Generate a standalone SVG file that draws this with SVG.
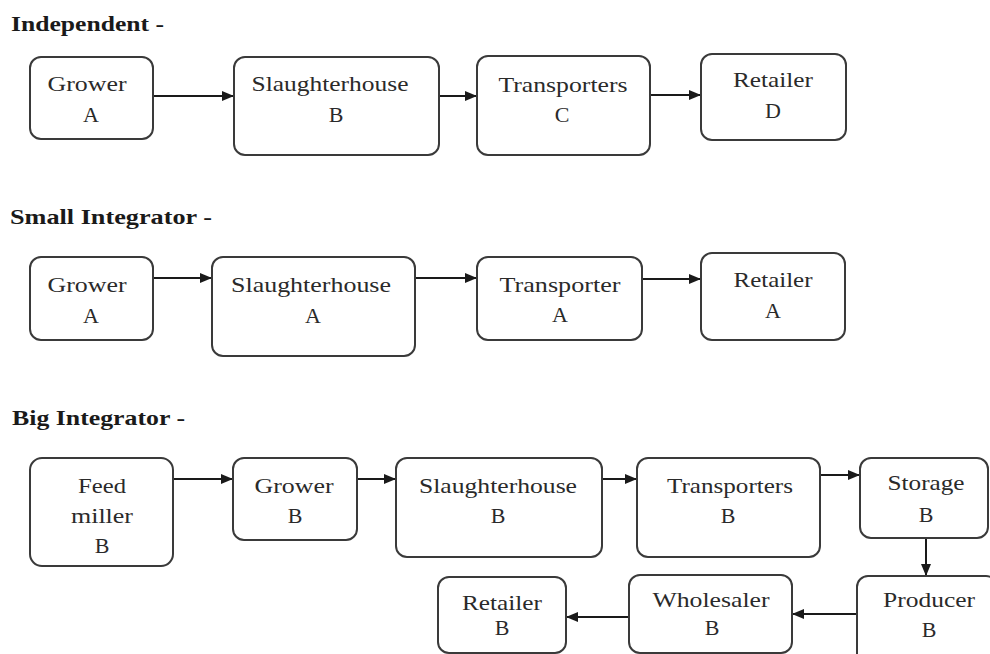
<svg xmlns="http://www.w3.org/2000/svg" width="990" height="654" viewBox="0 0 990 654">
<defs>
<marker id="ah" markerUnits="userSpaceOnUse" markerWidth="12" markerHeight="10" refX="12" refY="5" orient="auto">
<path d="M0,0 L12,5 L0,10 z" fill="#1a1a1a"/>
</marker>
<style>
.box{fill:#fff;stroke:#3a3a3a;stroke-width:2}
.t{font-family:'Liberation Serif',Tinos,'Times New Roman',Times,serif;font-size:22px;fill:#2a2a2a;text-anchor:middle}
.h{font-family:'Liberation Serif',Tinos,'Times New Roman',Times,serif;font-size:22px;font-weight:bold;fill:#1a1a1a}
.c{stroke:#1a1a1a;stroke-width:2;fill:none;marker-end:url(#ah)}
</style>
</defs>
<rect width="990" height="654" fill="#fff"/>
<text class="h" x="11" y="31" textLength="153" lengthAdjust="spacingAndGlyphs">Independent -</text>
<text class="h" x="10" y="224" textLength="202" lengthAdjust="spacingAndGlyphs">Small Integrator -</text>
<text class="h" x="12" y="425" textLength="173" lengthAdjust="spacingAndGlyphs">Big Integrator -</text>

<g id="connectors">
<line class="c" x1="153" y1="96" x2="234" y2="96"/>
<line class="c" x1="439" y1="96" x2="477" y2="96"/>
<line class="c" x1="650" y1="95" x2="701" y2="95"/>
<line class="c" x1="153" y1="278" x2="212" y2="278"/>
<line class="c" x1="415" y1="278" x2="477" y2="278"/>
<line class="c" x1="642" y1="279" x2="701" y2="279"/>
<line class="c" x1="173" y1="479" x2="233" y2="479"/>
<line class="c" x1="357" y1="479" x2="396" y2="479"/>
<line class="c" x1="602" y1="479" x2="637" y2="479"/>
<line class="c" x1="820" y1="475" x2="860" y2="475"/>
<line class="c" x1="926" y1="538" x2="926" y2="576"/>
<line class="c" x1="857" y1="614" x2="792" y2="614"/>
<line class="c" x1="629" y1="617" x2="566" y2="617"/>
</g>

<g id="ind-grower">
<rect class="box" x="30" y="57" width="123" height="82" rx="11"/>
<text class="t" x="87" y="91" textLength="79" lengthAdjust="spacingAndGlyphs">Grower</text>
<text class="t" x="91" y="122">A</text>
</g>
<g id="ind-slaughterhouse">
<rect class="box" x="234" y="57" width="205" height="98" rx="11"/>
<text class="t" x="330" y="91" textLength="157" lengthAdjust="spacingAndGlyphs">Slaughterhouse</text>
<text class="t" x="336" y="122">B</text>
</g>
<g id="ind-transporters">
<rect class="box" x="477" y="56" width="173" height="99" rx="11"/>
<text class="t" x="563" y="92" textLength="129" lengthAdjust="spacingAndGlyphs">Transporters</text>
<text class="t" x="562" y="122">C</text>
</g>
<g id="ind-retailer">
<rect class="box" x="701" y="54" width="145" height="86" rx="11"/>
<text class="t" x="773" y="87" textLength="80" lengthAdjust="spacingAndGlyphs">Retailer</text>
<text class="t" x="773" y="118">D</text>
</g>

<g id="small-grower">
<rect class="box" x="30" y="257" width="123" height="83" rx="11"/>
<text class="t" x="87" y="292" textLength="79" lengthAdjust="spacingAndGlyphs">Grower</text>
<text class="t" x="91" y="323">A</text>
</g>
<g id="small-slaughterhouse">
<rect class="box" x="212" y="257" width="203" height="99" rx="11"/>
<text class="t" x="311" y="292" textLength="160" lengthAdjust="spacingAndGlyphs">Slaughterhouse</text>
<text class="t" x="313" y="323">A</text>
</g>
<g id="small-transporter">
<rect class="box" x="477" y="257" width="165" height="83" rx="11"/>
<text class="t" x="560" y="292" textLength="121" lengthAdjust="spacingAndGlyphs">Transporter</text>
<text class="t" x="560" y="322">A</text>
</g>
<g id="small-retailer">
<rect class="box" x="701" y="253" width="144" height="87" rx="11"/>
<text class="t" x="773" y="287" textLength="79" lengthAdjust="spacingAndGlyphs">Retailer</text>
<text class="t" x="773" y="318">A</text>
</g>

<g id="big-feedmiller">
<rect class="box" x="30" y="458" width="143" height="108" rx="12"/>
<text class="t" x="102" y="493" textLength="48" lengthAdjust="spacingAndGlyphs">Feed</text>
<text class="t" x="102" y="523" textLength="62" lengthAdjust="spacingAndGlyphs">miller</text>
<text class="t" x="102" y="553">B</text>
</g>
<g id="big-grower">
<rect class="box" x="233" y="458" width="124" height="82" rx="11"/>
<text class="t" x="294" y="493" textLength="79" lengthAdjust="spacingAndGlyphs">Grower</text>
<text class="t" x="295" y="523">B</text>
</g>
<g id="big-slaughterhouse">
<rect class="box" x="396" y="458" width="206" height="99" rx="11"/>
<text class="t" x="498" y="493" textLength="158" lengthAdjust="spacingAndGlyphs">Slaughterhouse</text>
<text class="t" x="498" y="523">B</text>
</g>
<g id="big-transporters">
<rect class="box" x="637" y="458" width="183" height="99" rx="11"/>
<text class="t" x="730" y="493" textLength="126" lengthAdjust="spacingAndGlyphs">Transporters</text>
<text class="t" x="728" y="523">B</text>
</g>
<g id="big-storage">
<rect class="box" x="860" y="458" width="128" height="80" rx="11"/>
<text class="t" x="926" y="490" textLength="77" lengthAdjust="spacingAndGlyphs">Storage</text>
<text class="t" x="926" y="522">B</text>
</g>
<g id="big-producer">
<rect class="box" x="857" y="576" width="140" height="90" rx="11"/>
<text class="t" x="929" y="607" textLength="92" lengthAdjust="spacingAndGlyphs">Producer</text>
<text class="t" x="929" y="637">B</text>
</g>
<g id="big-wholesaler">
<rect class="box" x="629" y="575" width="163" height="78" rx="11"/>
<text class="t" x="711" y="607" textLength="117" lengthAdjust="spacingAndGlyphs">Wholesaler</text>
<text class="t" x="712" y="635">B</text>
</g>
<g id="big-retailer">
<rect class="box" x="438" y="577" width="128" height="76" rx="11"/>
<text class="t" x="502" y="610" textLength="80" lengthAdjust="spacingAndGlyphs">Retailer</text>
<text class="t" x="502" y="635">B</text>
</g>
</svg>
